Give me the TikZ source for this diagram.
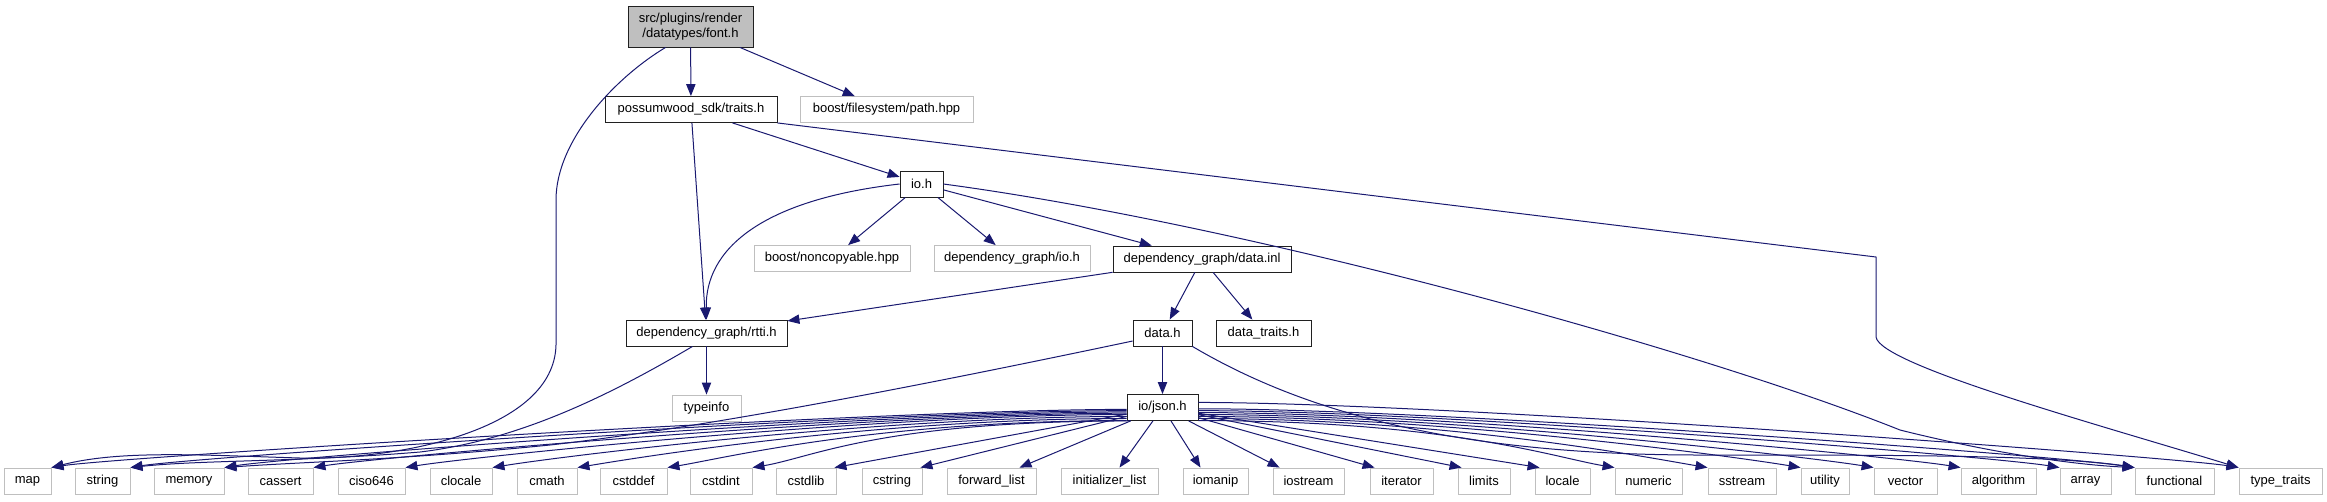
\documentclass[tikz,border=0pt]{standalone}
\usepackage{fontspec}
\setmainfont{Liberation Sans}
\usetikzlibrary{arrows.meta,calc}
\definecolor{edgec}{HTML}{191970}
\definecolor{grayb}{HTML}{BFBFBF}
\definecolor{darkb}{HTML}{202020}
\begin{document}
\begin{tikzpicture}[x=0.75pt,y=-0.75pt,
  box/.style={draw=darkb,line width=0.65pt,inner sep=0pt,align=center,
    font=\fontsize{9.75}{11.5}\selectfont,minimum height=26*0.75pt},
  gbox/.style={box,draw=grayb},
  edge/.style={draw=edgec,line width=0.75pt,-{Triangle[length=9pt,width=7pt]}}]
\useasboundingbox (0,0) rectangle (2327,501);
% upper nodes
\node[box,fill=grayb,minimum width=125*0.75pt,minimum height=41*0.75pt] (font) at (690.5,26.5) {src/plugins/render\\/datatypes/font.h};
\node[box,minimum width=172*0.75pt] (traits) at (691,109.5) {possumwood\_sdk/traits.h};
\node[gbox,minimum width=173*0.75pt] (path) at (886.5,109.5) {boost/filesystem/path.hpp};
\node[box,minimum width=43*0.75pt] (ioh) at (921.5,184) {io.h};
\node[gbox,minimum width=156*0.75pt] (noncop) at (832,258.5) {boost/noncopyable.hpp};
\node[gbox,minimum width=156*0.75pt] (dgio) at (1012,258.5) {dependency\_graph/io.h};
\node[box,minimum width=178*0.75pt] (datainl) at (1202,259) {dependency\_graph/data.inl};
\node[box,minimum width=161*0.75pt] (rtti) at (706.5,333) {dependency\_graph/rtti.h};
\node[box,minimum width=59*0.75pt] (datah) at (1162.5,333) {data.h};
\node[box,minimum width=95*0.75pt] (datatraits) at (1263.5,333) {data\_traits.h};
\node[gbox,minimum width=69*0.75pt] (typeinfo) at (706.5,408) {typeinfo};
\node[box,minimum width=71*0.75pt] (json) at (1162.5,407.5) {io/json.h};
% bottom row
\foreach \n/\x/\w/\t in {map/27.5/47/map, string/102.5/55/string, memory/189/70/memory,
  cassert/280.5/65/cassert, ciso646/371.5/67/ciso646, clocale/461/62/clocale,
  cmath/547/60/cmath, cstddef/633.5/67/cstddef, cstdint/721/62/cstdint,
  cstdlib/806/60/cstdlib, cstring/892/60/cstring, fwdlist/991.5/89/forward\_list,
  initlist/1109.5/97/initializer\_list, iomanip/1215.5/65/iomanip,
  iostream/1308.5/71/iostream, iterator/1401.5/63/iterator, limits/1484/52/limits,
  locale/1562.5/55/locale, numeric/1648.5/67/numeric, sstream/1742/68/sstream,
  utility/1825/48/utility, vector/1905.5/63/vector, algorithm/1998.5/75/algorithm,
  array/2085.5/51/array, functional/2174.5/79/functional, typetraits/2280.5/83/type\_traits}
  \node[gbox,minimum width=\w*0.75pt] (\n) at (\x,481) {\t};
% edges
\draw[edge] (font) -- (traits);
\draw[edge] (font) -- (path);
\draw[edge] (font.220) .. controls +(-50,30) and +(0,-60) .. (556,200) -- (556,345)
   .. controls (554,430) and (400,460) .. (300,458)
   .. controls (200,455) and (120,450) .. (map.north east);
\draw[edge] (traits) -- (ioh);
\draw[edge] (traits) -- (rtti);
\draw[edge] (traits.south east) -- (1876,257) -- (1876,337)
   .. controls (1880,365) and (2100,425) .. (typetraits.north west);
\draw[edge] (ioh.west) .. controls (760,200) and (705,250) .. (rtti.north);
\draw[edge] (ioh) -- (noncop);
\draw[edge] (ioh) -- (dgio);
\draw[edge] (ioh) -- (datainl);
\draw[edge] (ioh.east) .. controls (1250,225) and (1700,350) .. (1900,430)
   .. controls (2000,455) and (2080,465) .. (functional.north west);
\draw[edge] (datainl) -- (rtti);
\draw[edge] (datainl) -- (datah);
\draw[edge] (datainl) -- (datatraits);
\draw[edge] (datah) -- (json);
\draw[edge] (datah.195) .. controls (900,390) and (700,428) .. (550,445)
   .. controls (400,460) and (300,462) .. (memory.north east);
\draw[edge] (datah.south east) .. controls (1300,410) and (1450,455) .. (1700,455)
   .. controls (1900,455) and (2050,455) .. (functional.north west);
\draw[edge] (rtti) -- (typeinfo);
\draw[edge] ($(rtti.south)+(-14,0)$) .. controls (610,395) and (520,440) .. (420,452)
   .. controls (300,462) and (200,460) .. (string.north east);
% json fan
\foreach \t/\a in {map/183, string/185, memory/187, cassert/189, ciso646/191,
  clocale/194, cmath/197, cstddef/200, cstdint/203}
  \draw[edge] (json.\a) .. controls +(-250,0) and +(60,-10) .. (\t.north east);
\draw[edge] (json) -- ($(cstdlib.north east)+(-2,0)$);
\draw[edge] (json) -- ($(cstring.north east)+(-2,0)$);
\draw[edge] (json) -- ($(fwdlist.north)+(28,0)$);
\draw[edge] (json) -- ($(initlist.north)+(10,0)$);
\draw[edge] (json) -- ($(iomanip.north)+(-15,0)$);
\draw[edge] (json) -- ($(iostream.north west)+(7,0)$);
\draw[edge] (json) -- ($(iterator.north west)+(5,0)$);
\draw[edge] (json) -- ($(limits.north west)+(4,0)$);
\draw[edge] (json) -- ($(locale.north west)+(5,0)$);
\foreach \t/\a in {numeric/340, sstream/343, utility/346, vector/349, algorithm/352,
  array/355, functional/358, typetraits/8}
  \draw[edge] (json.\a) .. controls +(250,0) and +(-60,-10) .. (\t.north west);
\end{tikzpicture}
\end{document}
